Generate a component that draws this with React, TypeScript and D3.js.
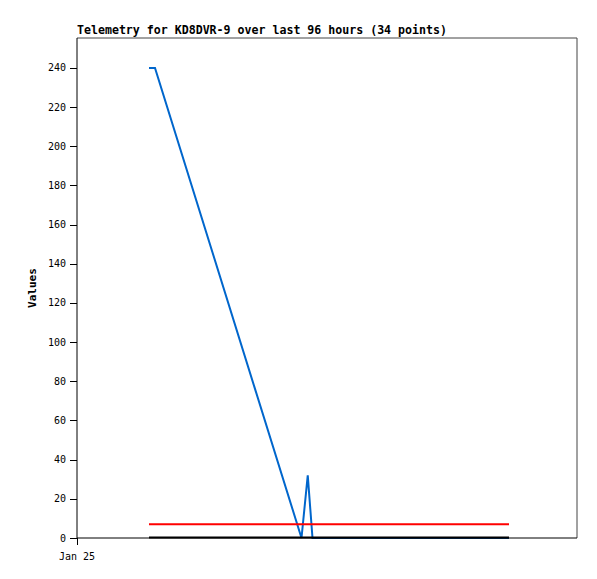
import React from "react";
import * as d3 from "d3";

const title = "Telemetry for KD8DVR-9 over last 96 hours (34 points)";
const yLabel = "Values";
const yTicks = [0, 20, 40, 60, 80, 100, 120, 140, 160, 180, 200, 220, 240];
const xTickLabels = ["Jan 25"];
// hours after Jan 25 00:00
const blueHours = [2.88, 3.12, 8.98, 9.23, 9.42, 17.28];
const blueValues = [240, 240, 0, 32, 0, 0];
const redHours = [2.88, 17.28];
const redValues = [7, 7];
const blackHours = [2.88, 17.28];
const blackValues = [0.3, 0.3];

const W = 597, H = 579;
const L = 77, R = 577, T = 38, B = 538;
const base = new Date(2024, 0, 25, 0, 0, 0);
const t = (h: number) => new Date(base.getTime() + h * 3600e3);

export default function App() {
  const x = d3.scaleTime().domain([t(0), t(20)]).range([L, R]);
  const y = d3.scaleLinear().domain([0, 255.3]).range([B, T]);
  const line = d3.line<[number, number]>().x(d => x(t(d[0]))).y(d => y(d[1]));
  const pts = (hs: number[], vs: number[]) => hs.map((h, i) => [h, vs[i]] as [number, number]);
  const font = "'DejaVu Sans Mono', monospace";
  return (
    <svg width={W} height={H} style={{ position: "absolute", left: 0, top: 0, background: "#fff" }}>
      <rect x={0} y={0} width={W} height={H} fill="#fff" />
      <text x={L} y={34} fontFamily={font} fontWeight="bold" fontSize={11.6} fill="#000">{title}</text>
      <line x1={L} y1={T} x2={R} y2={T} stroke="#444" strokeWidth={1} />
      <line x1={R} y1={T} x2={R} y2={B} stroke="#444" strokeWidth={1} />
      <path d={line(pts(blueHours, blueValues)) || ""} fill="none" stroke="#0066cc" strokeWidth={2} />
      <path d={line(pts(redHours, redValues)) || ""} fill="none" stroke="#ff0000" strokeWidth={2} />
      <path d={line(pts(blackHours, blackValues)) || ""} fill="none" stroke="#000" strokeWidth={2} />
      <line x1={L} y1={T} x2={L} y2={B + 1} stroke="#000" strokeWidth={1} />
      <line x1={L} y1={B} x2={R} y2={B} stroke="#000" strokeWidth={1} />
      {yTicks.map(v => (
        <g key={v}>
          <line x1={L - 7} x2={L} y1={Math.round(y(v)) + 0.5} y2={Math.round(y(v)) + 0.5} stroke="#000" />
          <text x={66} y={y(v) + 3.5} textAnchor="end" fontFamily={font} fontSize={10} fill="#000">{v}</text>
        </g>
      ))}
      {xTickLabels.map((lab, i) => (
        <g key={lab}>
          <line x1={x(t(i * 24)) + 0.5} x2={x(t(i * 24)) + 0.5} y1={B} y2={B + 7} stroke="#000" />
          <text x={x(t(i * 24))} y={560} textAnchor="middle" fontFamily={font} fontSize={10} fill="#000">{lab}</text>
        </g>
      ))}
      <text transform={`translate(36,${(T + B) / 2}) rotate(-90)`} textAnchor="middle" fontFamily={font} fontWeight="bold" fontSize={11} fill="#000">{yLabel}</text>
    </svg>
  );
}
